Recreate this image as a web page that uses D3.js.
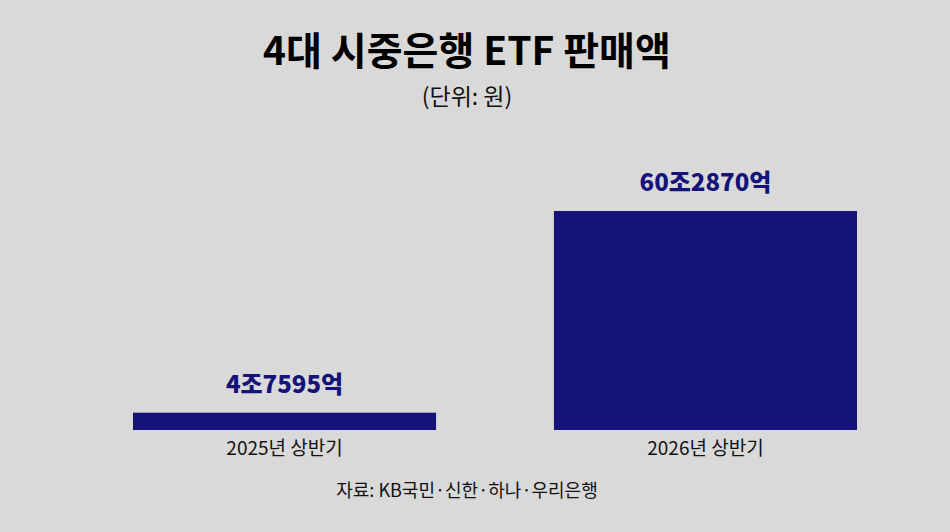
<!doctype html>
<meta charset="utf-8" />
<style>
    body { margin: 0; background: #d9d9d9; }
    text { font-family: "Noto Sans CJK KR", "Noto Sans", sans-serif; }
</style>
<svg></svg>

<script src="https://cdn.jsdelivr.net/npm/d3@7"></script>

<script>
    var categories = ['2025년 상반기', '2026년 상반기'];
    var values = [47595, 602870];          // 억 원
    var valueLabels = ['4조7595억', '60조2870억'];

    var W = 950, H = 532;
    var svg = d3.select('svg')
        .attr('width', W)
        .attr('height', H)
        .style('background', '#d9d9d9')

    var x = d3.scaleBand()
        .domain(categories)
        .range([133, 857])
        .paddingInner(0.28)
        .paddingOuter(0)

    var y = d3.scaleLinear()
        .domain([0, d3.max(values)])
        .range([430, 211])

    var navy = '#13137a';

    svg.append('text')
        .attr('x', 467).attr('y', 65)
        .attr('text-anchor', 'middle')
        .style('font-size', '39px')
        .style('font-weight', 700)
        .style('fill', '#000')
        .text('4대 시중은행 ETF 판매액')

    svg.append('text')
        .attr('x', 467).attr('y', 105)
        .attr('text-anchor', 'middle')
        .style('font-size', '23px')
        .style('fill', '#111')
        .text('(단위: 원)')

    svg.selectAll('rect.bar')
        .data(values)
        .join('rect')
        .attr('class', 'bar')
        .attr('x', function (d, i) { return x(categories[i]); })
        .attr('y', function (d) { return y(d); })
        .attr('width', x.bandwidth())
        .attr('height', function (d) { return y(0) - y(d); })
        .style('fill', navy)

    svg.selectAll('text.val')
        .data(values)
        .join('text')
        .attr('class', 'val')
        .attr('x', function (d, i) { return x(categories[i]) + x.bandwidth() / 2; })
        .attr('y', function (d) { return y(d) - 20; })
        .attr('text-anchor', 'middle')
        .style('font-size', '24px')
        .style('font-weight', 900)
        .style('fill', navy)
        .text(function (d, i) { return valueLabels[i]; })

    svg.selectAll('text.cat')
        .data(categories)
        .join('text')
        .attr('class', 'cat')
        .attr('x', function (d) { return x(d) + x.bandwidth() / 2; })
        .attr('y', 455)
        .attr('text-anchor', 'middle')
        .style('font-size', '19px')
        .style('fill', '#111')
        .text(function (d) { return d; })

    svg.append('text')
        .attr('x', 467).attr('y', 497)
        .attr('text-anchor', 'middle')
        .style('font-size', '18px')
        .style('fill', '#111')
        .text('자료: KB국민·신한·하나·우리은행')
</script>
